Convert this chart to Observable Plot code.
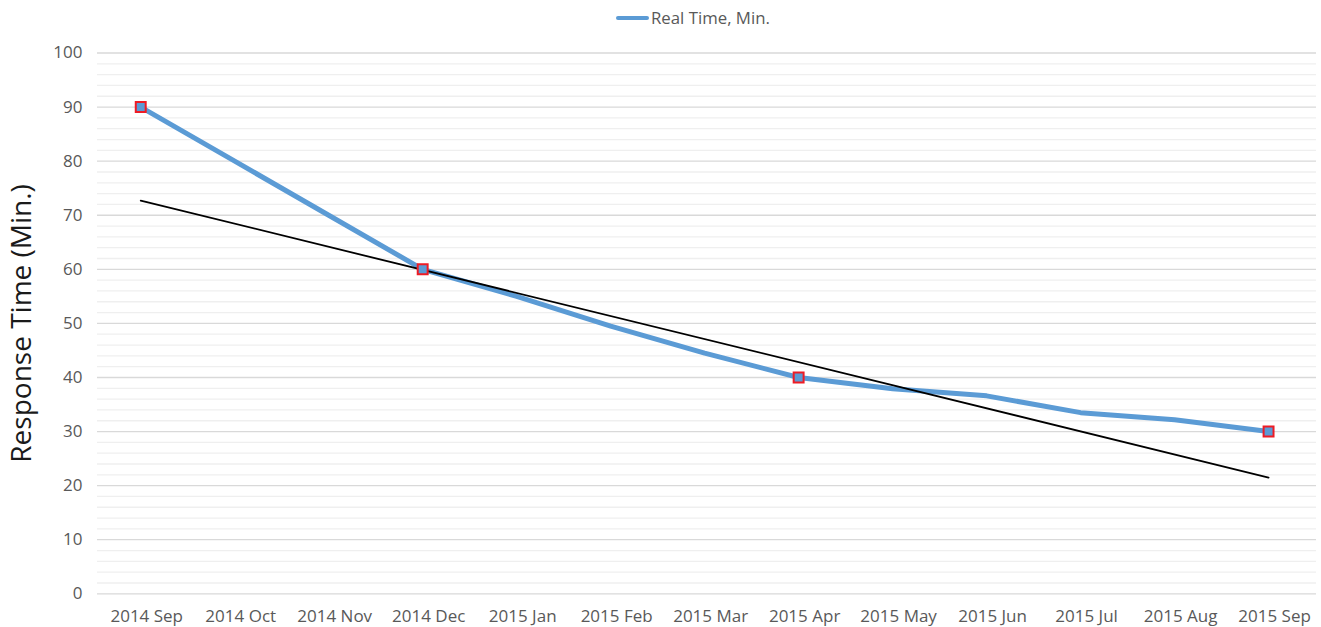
<!DOCTYPE html>
<html>
<head>
<meta charset="utf-8">
<script src="https://cdn.jsdelivr.net/npm/d3@7"></script>
<script src="https://cdn.jsdelivr.net/npm/@observablehq/plot@0.6"></script>
<style>
  html, body { margin: 0; padding: 0; background: #fff; }
  #wrap { width: 1321px; font-family: "Open Sans", "Noto Sans", sans-serif; }
  #legend { position: relative; height: 36px; }
  #legend .sw { position: absolute; left: 616px; top: 16px; width: 33px; height: 4px; background: #5b9bd5; border-radius: 2px; }
  #legend .lb { position: absolute; left: 651px; top: 6px; font-size: 16.8px; line-height: 24px; color: #595959; white-space: nowrap; }
</style>
</head>
<body>
<div id="wrap">
  <div id="legend"><span class="sw"></span><span class="lb">Real Time, Min.</span></div>
  <div id="chart"></div>
</div>
<script>
// ---- data ----
const months = ["2014 Sep", "2014 Oct", "2014 Nov", "2014 Dec", "2015 Jan", "2015 Feb", "2015 Mar",
                "2015 Apr", "2015 May", "2015 Jun", "2015 Jul", "2015 Aug", "2015 Sep"];
const realTime = [90, 80, 70, 60, 55, 49.5, 44.5, 40, 37.9, 36.6, 33.5, 32.2, 30];
const markerMonths = ["2014 Sep", "2014 Dec", "2015 Apr", "2015 Sep"];
const trendMonths = ["2014 Sep", "2015 Sep"];
const trendValues = [72.7, 21.5];
const yMajorTicks = [0, 10, 20, 30, 40, 50, 60, 70, 80, 90, 100];
const yMinorTicks = [2, 4, 6, 8, 12, 14, 16, 18, 22, 24, 26, 28, 32, 34, 36, 38, 42, 44, 46, 48,
                     52, 54, 56, 58, 62, 64, 66, 68, 72, 74, 76, 78, 82, 84, 86, 88, 92, 94, 96, 98];
const yTitle = "Response Time (Min.)";
const seriesName = "Real Time, Min.";

// ---- derived tables ----
const series = months.map((m, i) => ({month: m, i, value: realTime[i], series: seriesName}));
const markers = series.filter(d => markerMonths.includes(d.month));
const trend = trendMonths.map((m, k) => ({i: months.indexOf(m), value: trendValues[k]}));

const textColor = "#595959";

const chart = Plot.plot({
  width: 1321,
  height: 591,
  marginLeft: 97,
  marginRight: 5,
  marginTop: 16.5,
  marginBottom: 33.7,
  style: {fontFamily: "'Open Sans', 'Noto Sans', sans-serif", fontSize: "17px", color: textColor, background: "#fff"},
  x: {type: "linear", domain: [-0.46, 12.51], axis: null},
  y: {domain: [0, 100], axis: null},
  marks: [
    Plot.ruleY(yMinorTicks, {stroke: "#efefef", strokeWidth: 1.3}),
    Plot.ruleY(yMajorTicks, {stroke: "#d9d9d9", strokeWidth: 1.3}),
    Plot.axisY({ticks: yMajorTicks, tickSize: 0, tickPadding: 15, fill: textColor, fontSize: 17, label: null}),
    Plot.axisX({ticks: d3.range(months.length), tickFormat: i => months[i], tickSize: 0, tickPadding: 16, dx: 6,
                fill: textColor, fontSize: 17, label: null}),
    Plot.text([yTitle], {frameAnchor: "left", textAnchor: "middle", rotate: -90, dx: -75, dy: 0, fontSize: 28, fill: "#1a1a1a"}),
    Plot.line(series, {x: "i", y: "value", stroke: "#5b9bd5", strokeWidth: 5, strokeLinejoin: "round", strokeLinecap: "round"}),
    Plot.line(trend, {x: "i", y: "value", stroke: "#000", strokeWidth: 1.8}),
    Plot.dot(markers, {x: "i", y: "value", symbol: "square", r: 5.6, fill: "#5b9bd5", stroke: "#ee1c25", strokeWidth: 2})
  ]
});
document.getElementById("chart").appendChild(chart);
</script>
</body>
</html>
